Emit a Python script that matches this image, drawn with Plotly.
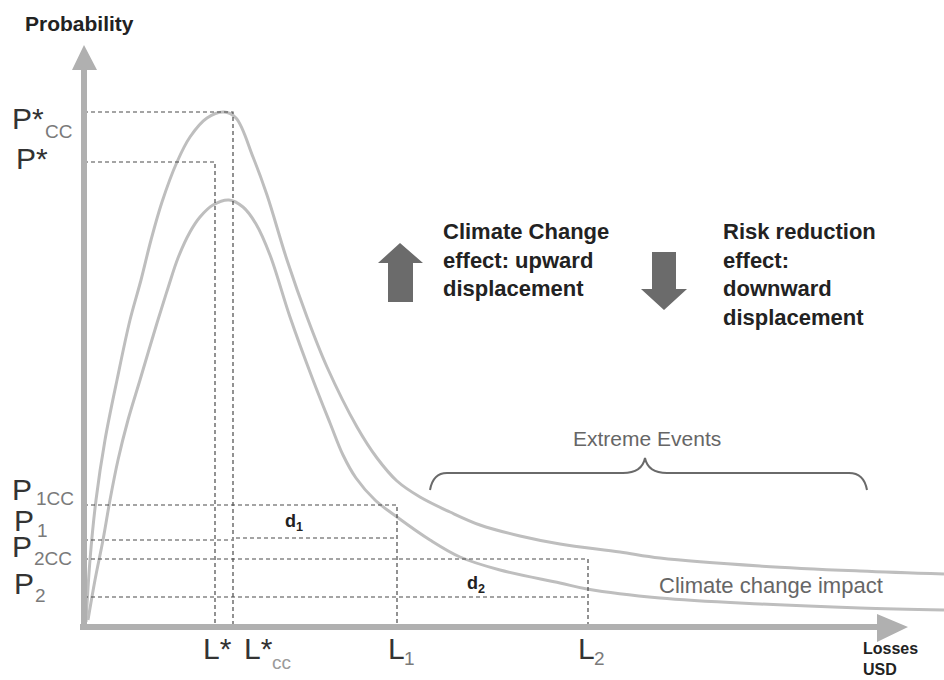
import plotly.graph_objects as go

# ---------------- data ----------------
# Climate-change (upper) loss distribution curve
loss_cc = [2, 6, 12, 21, 33, 46, 57, 67, 78, 93, 106, 123, 140, 152, 169, 183, 203, 223, 243,
           273, 293, 313, 336, 366, 396, 436, 476, 536, 576, 676, 776, 860]
prob_cc = [4, 66, 126, 186, 246, 306, 346, 386, 424, 464, 489, 508, 514, 508, 469, 431, 366, 309, 259,
           199, 168, 145, 129, 114, 101, 90, 82, 74, 68, 60, 55, 52]

# Baseline (lower) loss distribution curve
loss_base = [4, 11, 19, 26, 34, 44, 56, 73, 84, 94, 106, 116, 129, 145, 159, 172, 186, 206, 229,
             246, 259, 272, 291, 313, 346, 376, 416, 476, 503, 576, 676, 776, 860]
prob_base = [6, 46, 86, 126, 166, 206, 246, 303, 338, 368, 394, 409, 421, 426, 419, 402, 371, 309, 246,
             203, 171, 148, 126, 109, 86, 69, 56, 43, 37, 28, 22, 18, 16]

# Reference losses (x) and probabilities (y)
L_STAR, L_STAR_CC, L_1, L_2 = 131, 149, 313, 504
P_STAR_CC, P_STAR, P_1CC, P_1, P_2CC, P_2 = 514, 464, 121, 87, 67, 29

# Text
y_title = "Probability"
x_title = "Losses<br>USD"
cc_text = "Climate Change<br>effect: upward<br>displacement"
rr_text = "Risk reduction<br>effect:<br>downward<br>displacement"
extreme_text = "Extreme Events"
impact_text = "Climate change impact"

FONT = "Liberation Sans, Arial, sans-serif"
CURVE = "#bebebe"
AXIS = "#b0b0b0"
DASH = "#4a4a4a"

fig = go.Figure()

for xs, ys in [(loss_cc, prob_cc), (loss_base, prob_base)]:
    fig.add_trace(go.Scatter(x=xs, y=ys, mode="lines",
                             line=dict(color=CURVE, width=3, shape="spline", smoothing=1.0),
                             hoverinfo="skip"))

# dashed guide lines
guides = [
    ([0, L_STAR_CC, L_STAR_CC], [P_STAR_CC, P_STAR_CC, 0]),
    ([0, L_STAR, L_STAR], [P_STAR, P_STAR, 0]),
    ([0, L_1, L_1], [P_1CC, P_1CC, 0]),
    ([0, L_STAR_CC - 1], [P_1 - 1, P_1 - 1]),
    ([L_STAR_CC + 3, L_1], [P_1 + 1, P_1 + 1]),
    ([0, L_2, L_2], [P_2CC, P_2CC, 0]),
    ([0, L_2], [P_2, P_2]),
]
for gx, gy in guides:
    fig.add_trace(go.Scatter(x=gx, y=gy, mode="lines",
                             line=dict(color=DASH, width=1.2, dash="4px,3px"),
                             hoverinfo="skip"))

shapes = []
# axes (thick gray arrows)
y_top, x_right = 581, 824
shapes.append(dict(type="path", path=f"M -3,-3 L 3,-3 L 3,{y_top-25} L 13,{y_top-25} L 0,{y_top} L -12,{y_top-25} L -3,{y_top-25} Z",
                   fillcolor=AXIS, line=dict(width=0)))
shapes.append(dict(type="path", path=f"M -4,-4 L {x_right-31},-4 L {x_right-31},-16 L {x_right},-1 L {x_right-31},12 L {x_right-31},2 L -4,2 Z",
                   fillcolor=AXIS, line=dict(width=0)))
# block arrows
ARR = "#6b6b6b"
shapes.append(dict(type="path", path="M 304,324 L 329,324 L 329,363 L 339,363 L 316,383 L 294,363 L 304,363 Z",
                   fillcolor=ARR, line=dict(width=0)))
shapes.append(dict(type="path", path="M 568,374 L 592,374 L 592,337 L 603,337 L 580,316 L 557,337 L 568,337 Z",
                   fillcolor=ARR, line=dict(width=0)))
# brace over the tail
bx0, bx1, bmid, by = 346, 783, 561, 153
shapes.append(dict(type="path",
                   path=f"M {bx0},{by-17} Q {bx0+3},{by} {bx0+17},{by} L {bmid-22},{by} Q {bmid-3},{by} {bmid},{by+15} "
                        f"Q {bmid+3},{by} {bmid+22},{by} L {bx1-18},{by} Q {bx1-3},{by} {bx1},{by-17}",
                   line=dict(color="#6a6a6a", width=2)))

ann = []
def A(x, y, text, size, color="#333333", xa="left", ya="middle", bold=False):
    ann.append(dict(x=x, y=y, xref="x", yref="y", text=(f"<b>{text}</b>" if bold else text), showarrow=False,
                    xanchor=xa, yanchor=ya, align="left",
                    font=dict(family=FONT, size=size, color=color)))

SUB = "#7a7a7a"
# y labels
A(-74, 508, "P*", 30); A(-41, 495, "CC", 19, SUB)
A(-70, 468, "P*", 30)
A(-74, 137, "P", 30); A(-50, 128, "1CC", 19, SUB)
A(-72, 106, "P", 30); A(-49, 96, "1", 19, SUB)
A(-74, 80, "P", 30); A(-52, 68, "2CC", 19, SUB)
A(-72, 43, "P", 30); A(-51, 31, "2", 19, SUB)
# x labels
A(L_STAR - 14, -22, "L*", 30)
A(L_STAR_CC + 9, -22, "L*", 30); A(L_STAR_CC + 37, -36, "cc", 19, "#9a9a9a")
A(L_1 - 11, -22, "L", 30); A(L_1 + 5, -32, "1", 19, SUB)
A(L_2 - 12, -22, "L", 30); A(L_2 + 4, -32, "2", 19, SUB)
# d1, d2
A(199, 104, "d<sub>1</sub>", 18, "#222222", bold=True)
A(381, 42, "d<sub>2</sub>", 18, "#222222", bold=True)
# titles
A(-5, 603, y_title, 21, "#222222", xa="center", bold=True)
A(806, -33, x_title, 16, "#222222", xa="center", bold=True)
A(357, 366, cc_text, 22, "#222222", bold=True)
A(637, 352, rr_text, 22, "#222222", bold=True)
A(563, 188, extreme_text, 21, "#666666", xa="center")
A(573, 41, impact_text, 22, "#666666")

fig.update_layout(
    width=944, height=680, margin=dict(l=0, r=0, t=0, b=0),
    paper_bgcolor="white", plot_bgcolor="white", showlegend=False,
    xaxis=dict(range=[-84, 860], visible=False, fixedrange=True),
    yaxis=dict(range=[-54, 626], visible=False, fixedrange=True),
    shapes=shapes, annotations=ann,
)
fig.write_html("out.html", config={"displayModeBar": False},
               post_script="document.body.style.margin='0px';document.body.style.overflow='hidden';")
